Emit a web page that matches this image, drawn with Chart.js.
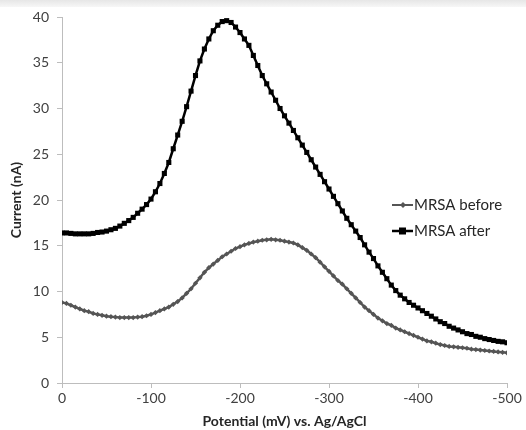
<!DOCTYPE html>
<html>
<head>
<meta charset="utf-8">
<script src="https://cdn.jsdelivr.net/npm/chart.js@4"></script>
<style>
  html, body { margin: 0; padding: 0; background: #fff; }
  #wrap { position: relative; width: 526px; height: 430px; }
  #band { position: absolute; left: 0; top: 0; width: 526px; height: 7px; background: linear-gradient(#e6e6e6, #f7f7f7); }
</style>
</head>
<body>
<div id="wrap">
  <div id="band"></div>
  <canvas id="grafico" width="526" height="430"></canvas>
</div>
<script>
// potencial (mV) cada 5 mV, de 0 a -500
const POTENCIAL = Array.from({length: 101}, (_, i) => -5 * i);

const MRSA_ANTES = [
  8.8, 8.7, 8.5, 8.3, 8.1, 7.9, 7.8, 7.6, 7.5, 7.4,
  7.3, 7.25, 7.2, 7.15, 7.15, 7.15, 7.15, 7.2, 7.25, 7.35,
  7.5, 7.7, 7.9, 8.1, 8.3, 8.6, 8.9, 9.3, 9.8, 10.3,
  10.9, 11.5, 12.1, 12.6, 13.0, 13.4, 13.8, 14.1, 14.4, 14.7,
  14.9, 15.1, 15.25, 15.4, 15.5, 15.6, 15.65, 15.7, 15.65, 15.6,
  15.5, 15.4, 15.3, 15.1, 14.8, 14.5, 14.1, 13.7, 13.2, 12.7,
  12.2, 11.7, 11.2, 10.8, 10.3, 9.8, 9.3, 8.8, 8.3, 7.9,
  7.5, 7.1, 6.8, 6.5, 6.3, 6.0, 5.8, 5.6, 5.4, 5.2,
  5.0, 4.8, 4.6, 4.5, 4.35, 4.2, 4.1, 4.0, 3.95, 3.9,
  3.85, 3.8, 3.7, 3.65, 3.6, 3.55, 3.5, 3.45, 3.4, 3.35,
  3.3
];

const MRSA_DESPUES = [
  16.4, 16.4, 16.35, 16.3, 16.3, 16.3, 16.3, 16.35, 16.45, 16.5,
  16.6, 16.75, 16.9, 17.15, 17.45, 17.75, 18.1, 18.55, 19.0, 19.5,
  20.1, 20.9, 21.8, 22.9, 24.1, 25.6, 27.1, 28.6, 30.2, 31.9,
  33.6, 35.2, 36.5, 37.6, 38.5, 39.1, 39.5, 39.6, 39.4, 38.9,
  38.3, 37.6, 36.9, 35.8, 34.7, 33.6, 32.7, 31.8, 30.9, 30.0,
  29.2, 28.4, 27.6, 26.8, 26.0, 25.2, 24.4, 23.6, 22.8, 22.0,
  21.2, 20.4, 19.6, 18.8, 18.0, 17.3, 16.6, 15.9, 15.1, 14.3,
  13.6, 12.8, 12.1, 11.4, 10.7, 10.1, 9.6, 9.2, 8.8, 8.5,
  8.2, 7.9, 7.6, 7.3, 7.0, 6.7, 6.5, 6.2, 6.0, 5.8,
  5.6, 5.4, 5.3, 5.1, 5.0, 4.85, 4.75, 4.65, 4.55, 4.5,
  4.4
];

const SERIES = ['MRSA before', 'MRSA after'];
const COLORES = ['#555555', '#000000'];
const FUENTE = 'Lato, "Open Sans", sans-serif';

const puntos = arr => POTENCIAL.map((x, i) => ({x: x, y: arr[i]}));

// leyenda dibujada dentro del area del grafico
const leyenda = {
  id: 'leyenda',
  afterDraw(chart) {
    const ctx = chart.ctx;
    ctx.save();
    ctx.font = '15px ' + FUENTE;
    ctx.textBaseline = 'middle';
    [[SERIES[0], 205, 0], [SERIES[1], 231, 1]].forEach(([txt, y, k]) => {
      ctx.strokeStyle = COLORES[k];
      ctx.lineWidth = k === 1 ? 2.5 : 2;
      ctx.beginPath(); ctx.moveTo(392, y); ctx.lineTo(413, y); ctx.stroke();
      ctx.fillStyle = COLORES[k];
      if (k === 1) ctx.fillRect(399, y - 3.5, 7, 7);
      else { ctx.beginPath(); ctx.moveTo(403, y - 3); ctx.lineTo(406, y); ctx.lineTo(403, y + 3); ctx.lineTo(400, y); ctx.fill(); }
      ctx.fillStyle = '#262626';
      ctx.fillText(txt, 414, y);
    });
    ctx.restore();
  }
};

new Chart(document.getElementById('grafico'), {
  type: 'line',
  data: {
    datasets: [
      {label: SERIES[0], data: puntos(MRSA_ANTES), borderColor: COLORES[0], backgroundColor: COLORES[0], borderWidth: 2.5,
       pointStyle: 'rectRot', pointRadius: 2.6, pointBorderWidth: 0, tension: 0},
      {label: SERIES[1], data: puntos(MRSA_DESPUES), borderColor: COLORES[1], backgroundColor: COLORES[1], borderWidth: 2.5,
       pointStyle: 'rect', pointRadius: 3.6, pointBorderWidth: 0, tension: 0}
    ]
  },
  options: {
    responsive: false,
    animation: false,
    layout: {padding: {top: 17, right: 19, left: 0, bottom: 0}},
    plugins: {legend: {display: false}, tooltip: {enabled: false}},
    scales: {
      x: {
        type: 'linear', min: -500, max: 0, reverse: true,
        afterFit: s => { s.height = 47; },
        border: {color: '#bdbdbd', width: 1},
        grid: {drawOnChartArea: false, drawTicks: true, tickLength: 5, color: '#bdbdbd'},
        ticks: {stepSize: 100, color: '#404040', font: {family: FUENTE, size: 14}, padding: 2, maxRotation: 0},
        title: {display: true, text: 'Potential (mV) vs. Ag/AgCl', color: '#262626', font: {family: FUENTE, size: 14, weight: 'bold'}, padding: 0}
      },
      y: {
        min: 0, max: 40,
        afterFit: s => { s.width = 62; },
        border: {color: '#bdbdbd', width: 1},
        grid: {drawOnChartArea: false, drawTicks: true, tickLength: 5, color: '#bdbdbd'},
        ticks: {stepSize: 5, color: '#404040', font: {family: FUENTE, size: 14}, padding: 8},
        title: {display: true, text: 'Current (nA)', color: '#262626', font: {family: FUENTE, size: 14, weight: 'bold'}, padding: {top: 8, bottom: 0}}
      }
    }
  },
  plugins: [leyenda]
});
</script>
</body>
</html>
